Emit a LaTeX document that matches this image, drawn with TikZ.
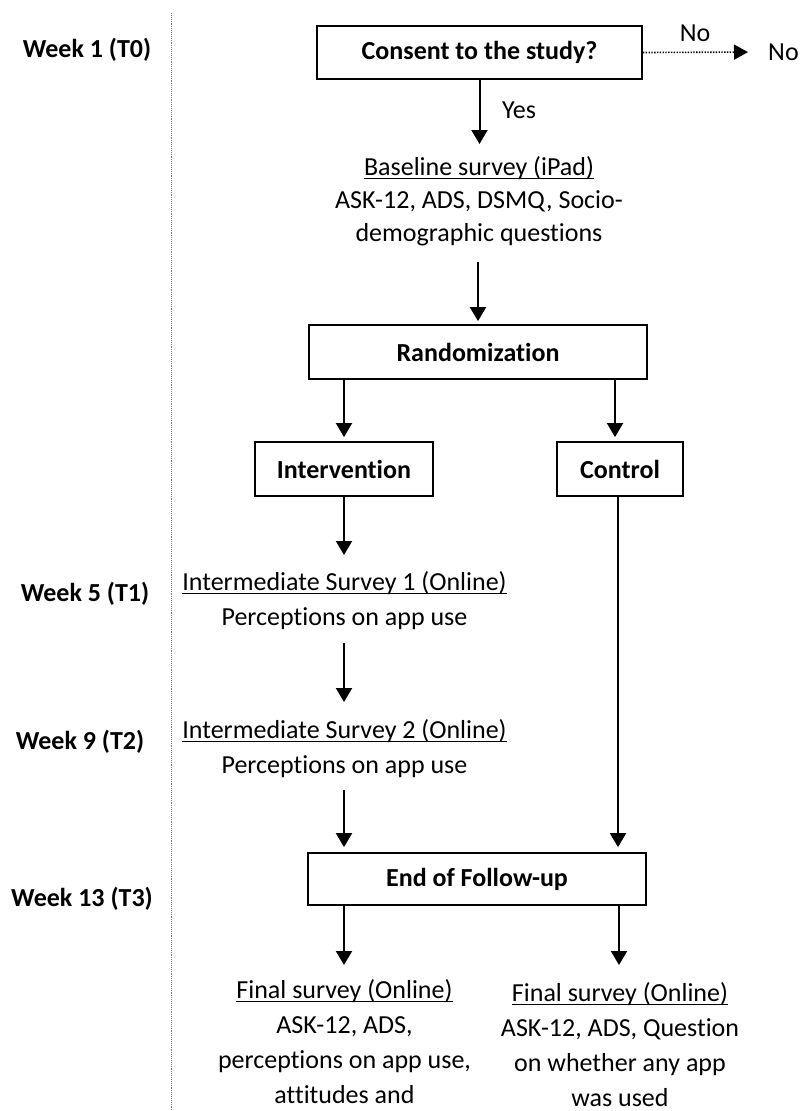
\documentclass[tikz,border=0pt]{standalone}
\usepackage{fontspec}
\setmainfont[Ligatures=NoCommon]{Carlito}
\usetikzlibrary{arrows.meta}
\newcommand{\myul}[1]{\setbox0\hbox{#1}\rlap{\rule[-3.5pt]{\wd0}{1.2pt}}\box0}
\newcommand{\mystrut}{\rule[-11pt]{0pt}{35pt}}
\newcommand{\mystrutb}{\rule[-10pt]{0pt}{33pt}}
\begin{document}
\begin{tikzpicture}[x=1pt,y=-1pt,
  box/.style={draw, line width=1.8pt, inner sep=0pt, font=\bfseries\fontsize{26}{30}\selectfont},
  lbl/.style={font=\bfseries\fontsize{26}{30}\selectfont, inner sep=0pt},
  plain/.style={font=\fontsize{26}{30}\selectfont, inner sep=0pt},
  txt/.style={font=\fontsize{26}{35}\selectfont, align=center, inner sep=0pt, anchor=north},
  txtb/.style={font=\fontsize{26}{33}\selectfont, align=center, inner sep=0pt, anchor=north},
  arr/.style={line width=2pt, -{Triangle[length=14pt,width=16pt]}},
  dotarr/.style={line width=1.6pt, dash pattern=on 1.4pt off 1.4pt, -{Triangle[length=14pt,width=15pt]}},
  timeline/.style={gray, line width=0.9pt, densely dotted},
]
\useasboundingbox (0,0) rectangle (800,1111);

% timeline
\coordinate (vtop) at (171,13);
\coordinate (vbot) at (171,1111);
\draw[timeline] (vtop) -- (vbot);

% week labels
\node[lbl] (w1) at (87,50) {Week 1 (T0)};
\node[lbl] (w5) at (85,594) {Week 5 (T1)};
\node[lbl] (w9) at (80,742) {Week 9 (T2)};
\node[lbl] (w13) at (82,899) {Week 13 (T3)};

% boxes
\node[box, minimum width=325pt, minimum height=53pt] (consent) at (479.5,52.5) {Consent to the study?};
\node[box, minimum width=338pt, minimum height=54pt] (random) at (478,352) {Randomization};
\node[box, minimum width=178pt, minimum height=54pt] (interv) at (344,469) {Intervention};
\node[box, minimum width=126pt, minimum height=54pt] (control) at (620,469) {Control};
\node[box, minimum width=338pt, minimum height=52pt] (endb) at (477,879) {End of Follow-up};

% side texts
\node[plain] (nolbl) at (695,33) {No};
\node[plain, anchor=west] (noend) at (768,52) {No};
\node[plain] (yes) at (519,110) {Yes};

% survey texts
\node[txtb] (base) at (479,152) {\myul{Baseline survey (iPad)}\mystrutb\\ASK-12, ADS, DSMQ, Socio-\mystrutb\\demographic questions\mystrutb};
\node[txt] (is1) at (344.5,566) {\myul{Intermediate Survey 1 (Online)}\mystrut\\Perceptions on app use\mystrut};
\node[txt] (is2) at (344.5,714) {\myul{Intermediate Survey 2 (Online)}\mystrut\\Perceptions on app use\mystrut};
\node[txt] (finl) at (344.5,974) {\myul{Final survey (Online)}\mystrut\\ASK-12, ADS,\mystrut\\perceptions on app use,\mystrut\\attitudes and\mystrut};
\node[txt] (finr) at (620,977) {\myul{Final survey (Online)}\mystrut\\ASK-12, ADS, Question\mystrut\\on whether any app\mystrut\\was used\mystrut};

% connectors
\draw[dotarr, shorten >=20pt] (consent.east) -- (noend.west);
\draw[arr, shorten >=8pt] (consent.south) -- (consent.south |- base.north);
\draw[arr, shorten <=11pt, shorten >=3pt] (random.north |- base.south) -- (random.north);
\draw[arr, shorten >=4pt] (interv.north |- random.south) -- (interv.north);
\draw[arr, shorten >=4pt] ([xshift=-5pt]control.north |- random.south) -- ([xshift=-5pt]control.north);
\draw[arr, shorten >=11pt] (interv.south) -- (interv.south |- is1.north);
\draw[arr, shorten <=7pt, shorten >=12pt] (interv.south |- is1.south) -- (interv.south |- is2.north);
\draw[arr, shorten <=6pt, shorten >=5pt] (interv.south |- is2.south) -- (interv.south |- endb.north);
\draw[arr, shorten >=5pt] ([xshift=-2pt]control.south) -- ([xshift=-2pt]control.south |- endb.north);
\draw[arr, shorten >=9pt] (interv.south |- endb.south) -- (interv.south |- finl.north);
\draw[arr, shorten >=12pt] ([xshift=-1pt]finr.north |- endb.south) -- ([xshift=-1pt]finr.north);
\end{tikzpicture}
\end{document}
